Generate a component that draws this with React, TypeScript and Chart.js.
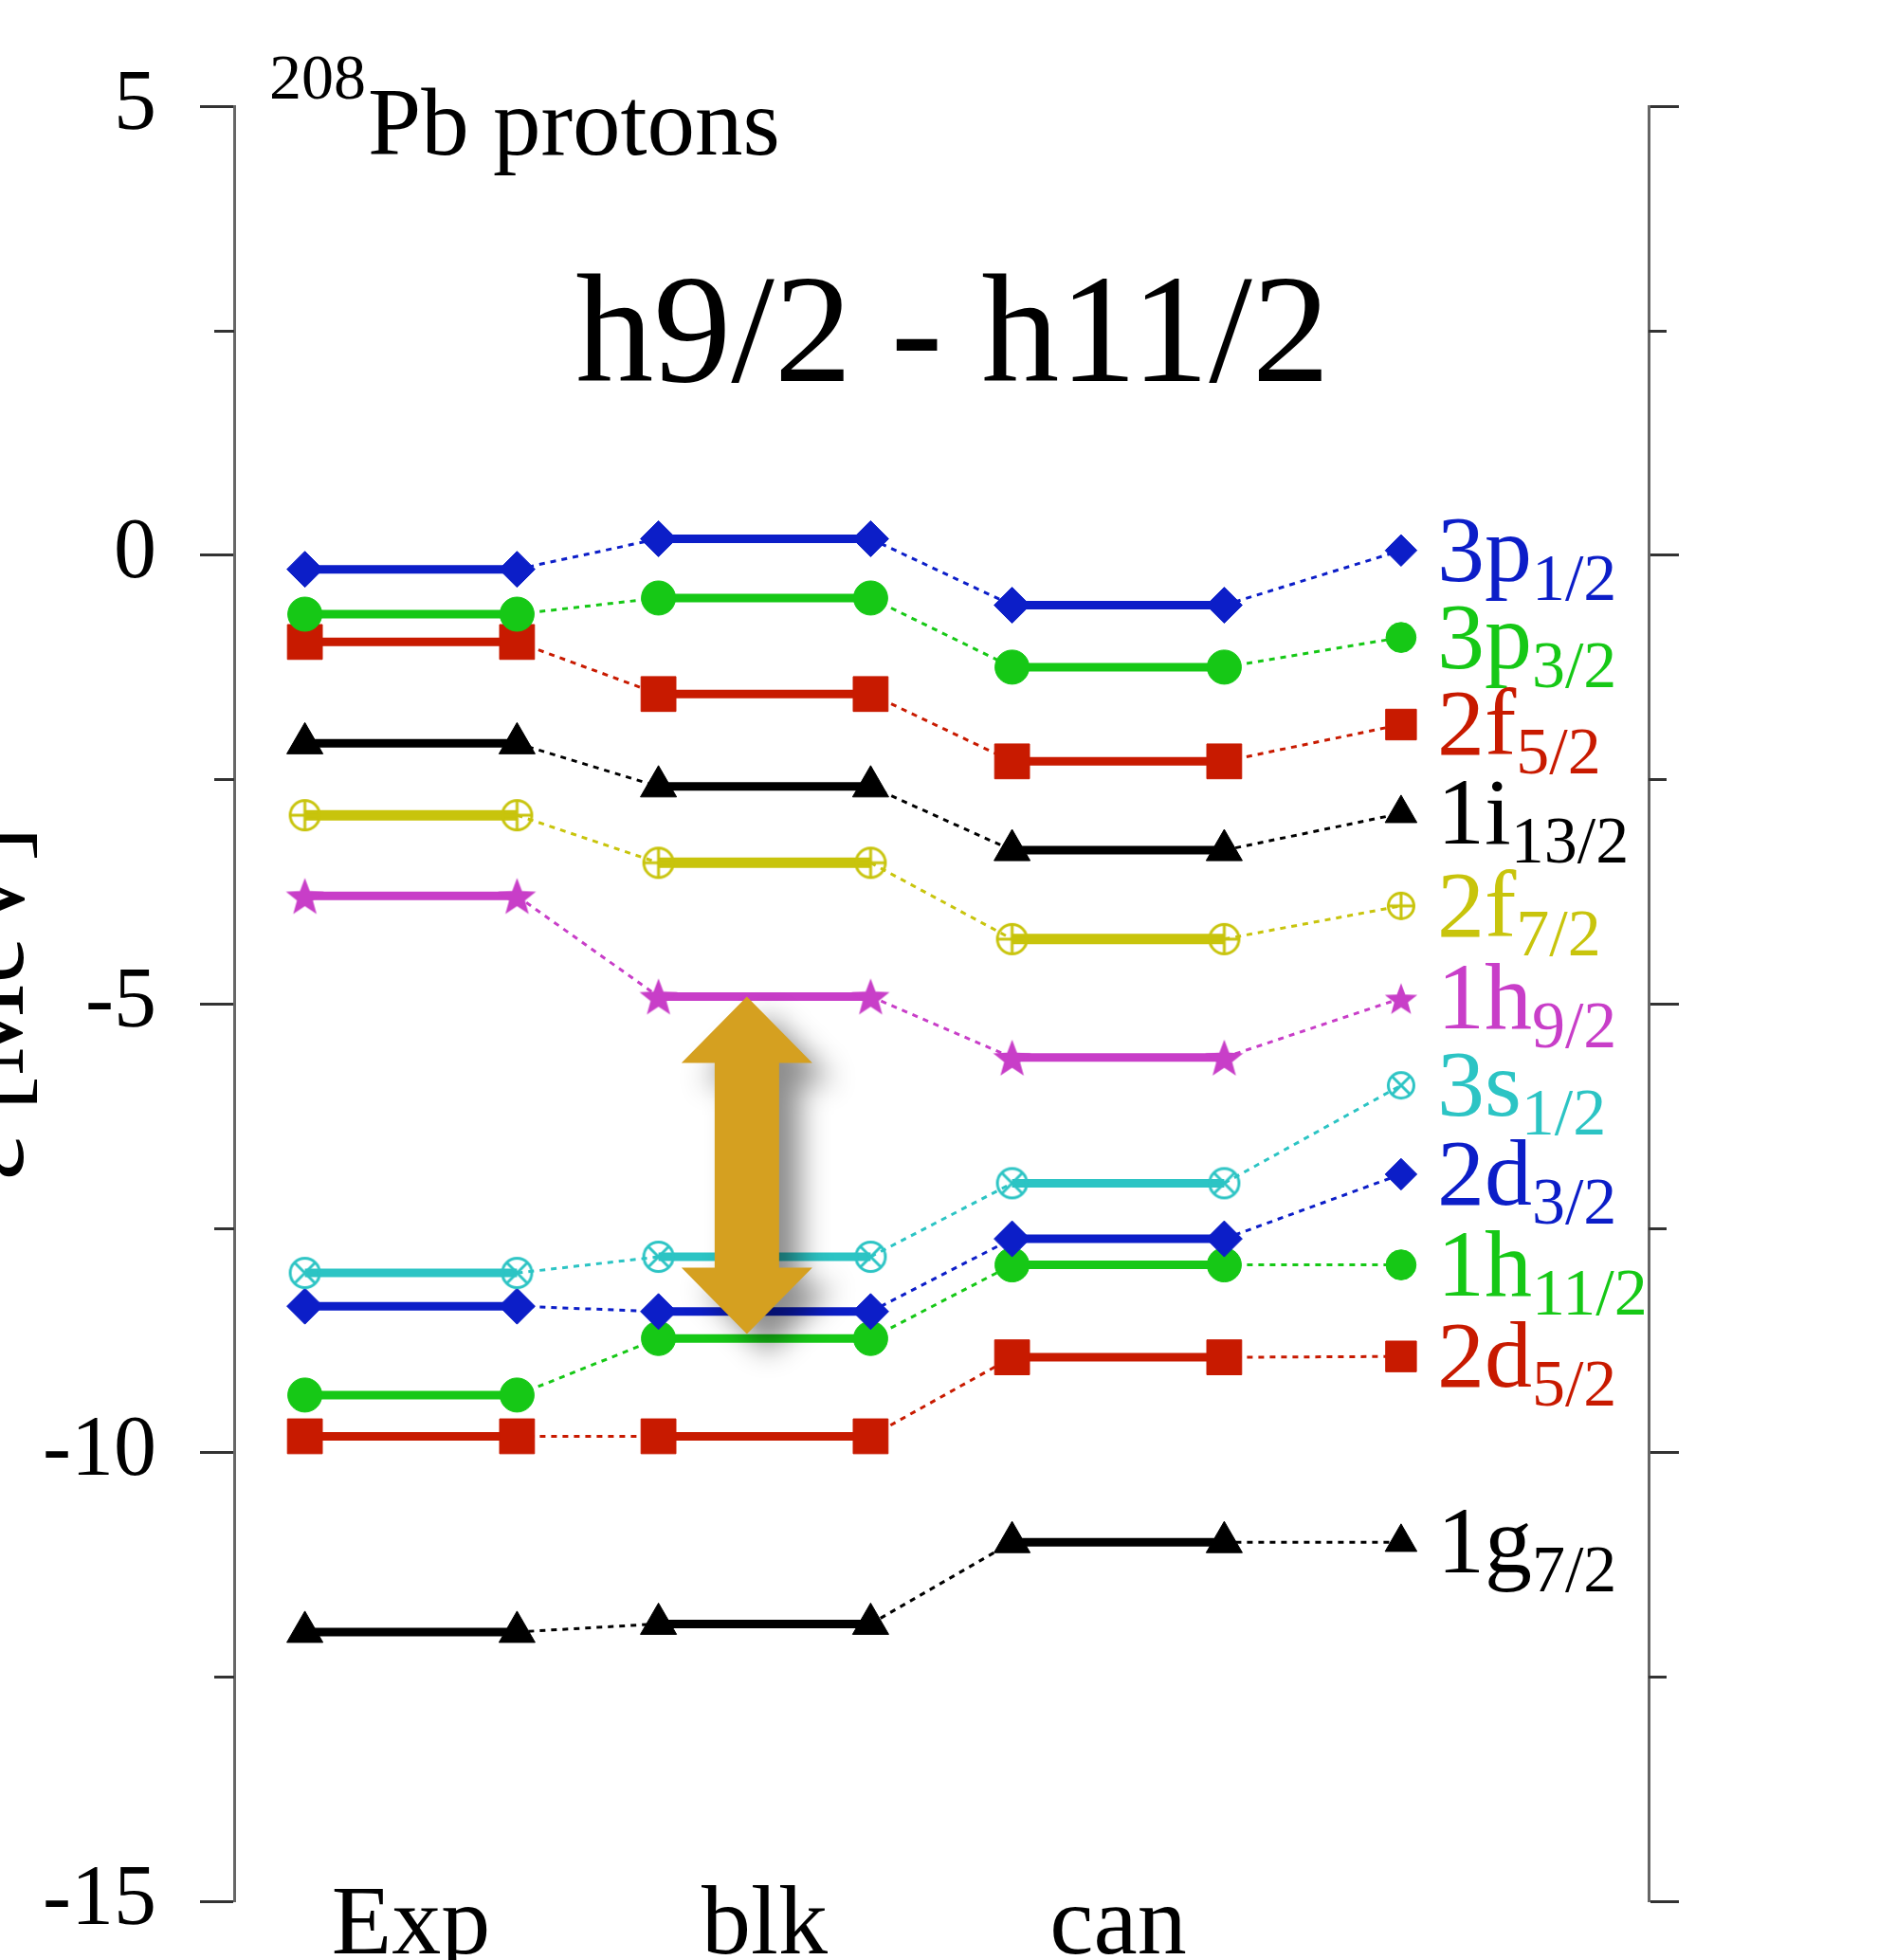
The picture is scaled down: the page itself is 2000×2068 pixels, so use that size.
import { useEffect, useRef } from 'react';
import { Chart, registerables } from 'chart.js';

Chart.register(...registerables);

// Proton single-particle levels of 208Pb (MeV)
const columns = ['Exp', 'blk', 'can'];
const orbitals = ['3p', '3p', '2f', '1i', '2f', '1h', '3s', '2d', '1h', '2d', '1g'];
const subscripts = ['1/2', '3/2', '5/2', '13/2', '7/2', '9/2', '1/2', '3/2', '11/2', '5/2', '7/2'];
const expLevels = [-0.16, -0.66, -0.97, -2.1, -2.9, -3.8, -8.0, -8.37, -9.36, -9.82, -12.0];
const blkLevels = [0.18, -0.48, -1.55, -2.58, -3.43, -4.92, -7.82, -8.43, -8.73, -9.82, -11.91];
const canLevels = [-0.56, -1.25, -2.3, -3.29, -4.28, -5.6, -7.0, -7.62, -7.91, -8.94, -11.0];
const labelLevels = [0.05, -0.92, -1.89, -2.88, -3.91, -4.94, -5.91, -6.9, -7.91, -8.93, -11.0];
const seriesColors = ['#0c1ec8', '#16c816', '#c81a00', '#000000', '#c8c40c', '#c83ec8', '#2cc4c4', '#0c1ec8', '#16c816', '#c81a00', '#000000'];
const markerKinds = ['rectRot', 'circle', 'rect', 'triangle', 'oplus', 'star', 'otimes', 'rectRot', 'circle', 'rect', 'triangle'];

// h9/2 - h11/2 gap in the blk column
const gapTop = -4.92;
const gapBottom = -8.68;

const Y_MIN = -15;
const Y_MAX = 5;
const MAJOR_STEP = 5;
const minorTickValues = [2.5, -2.5, -7.5, -12.5];

// horizontal layout of the level scheme (x in column units)
const COLUMN_START = [0, 1, 2];
const LEVEL_LENGTH = 0.6;
const LABEL_COLUMN = 3.1;
const GAP_COLUMN = 1.25;
const X_MIN = -0.2;
const X_MAX = 3.8;

const SERIF = '"Liberation Serif", "DejaVu Serif", serif';

const markerRadius: Record<string, number> = {
  rectRot: 19,
  circle: 18,
  rect: 26,
  triangle: 22,
  oplus: 17,
  otimes: 17,
  star: 21,
};

function makeMarker(kind: string, color: string, r: number): HTMLCanvasElement {
  const size = Math.ceil(r * 2 + 8);
  const c = document.createElement('canvas');
  c.width = size;
  c.height = size;
  const g = c.getContext('2d')!;
  const m = size / 2;
  g.strokeStyle = color;
  g.fillStyle = color;
  g.lineWidth = 3;
  if (kind === 'oplus' || kind === 'otimes') {
    g.beginPath();
    g.arc(m, m, r - 1.5, 0, Math.PI * 2);
    g.stroke();
    g.beginPath();
    if (kind === 'oplus') {
      g.moveTo(m - r, m);
      g.lineTo(m + r, m);
      g.moveTo(m, m - r);
      g.lineTo(m, m + r);
    } else {
      const d = (r - 1.5) * Math.SQRT1_2;
      g.moveTo(m - d, m - d);
      g.lineTo(m + d, m + d);
      g.moveTo(m + d, m - d);
      g.lineTo(m - d, m + d);
    }
    g.stroke();
  } else if (kind === 'star') {
    const inner = r * 0.42;
    g.beginPath();
    for (let k = 0; k < 10; k++) {
      const rad = k % 2 === 0 ? r : inner;
      const a = -Math.PI / 2 + (k * Math.PI) / 5;
      const px = m + rad * Math.cos(a);
      const py = m + 2 + rad * Math.sin(a);
      if (k === 0) g.moveTo(px, py);
      else g.lineTo(px, py);
    }
    g.closePath();
    g.fill();
  }
  return c;
}

export default function App() {
  const ref = useRef<HTMLCanvasElement>(null);

  useEffect(() => {
    const canvas = ref.current;
    if (!canvas) return;

    const levelRows = [expLevels, blkLevels, canLevels];

    const datasets = orbitals.map((orb, i) => {
      const color = seriesColors[i];
      const kind = markerKinds[i];
      const r = markerRadius[kind];
      const custom = kind === 'oplus' || kind === 'otimes' || kind === 'star';
      const big = custom ? makeMarker(kind, color, r) : null;
      const small = custom ? makeMarker(kind, color, Math.round(r * 0.88)) : null;
      const solidWidth = kind === 'oplus' ? 11 : 9;
      return {
        label: orb + subscripts[i],
        data: [
          ...levelRows.flatMap((row, c) => [
            { x: COLUMN_START[c], y: row[i] },
            { x: COLUMN_START[c] + LEVEL_LENGTH, y: row[i] },
          ]),
          { x: LABEL_COLUMN, y: labelLevels[i] },
        ],
        borderColor: color,
        backgroundColor: color,
        borderWidth: solidWidth,
        pointBackgroundColor: color,
        pointBorderColor: color,
        pointBorderWidth: 1,
        pointStyle: (ctx: any) => (custom ? (ctx.dataIndex === 6 ? small : big) : kind),
        pointRadius: (ctx: any) => (ctx.dataIndex === 6 ? r * 0.88 : r),
        pointHoverRadius: (ctx: any) => (ctx.dataIndex === 6 ? r * 0.88 : r),
        tension: 0,
        fill: false,
        segment: {
          borderWidth: (ctx: any) => (ctx.p0DataIndex % 2 === 0 ? solidWidth : 3),
          borderDash: (ctx: any) => (ctx.p0DataIndex % 2 === 0 ? [] : [6, 6]),
        },
      };
    });

    const annotations = {
      id: 'levelAnnotations',
      afterDatasetsDraw(chart: any) {
        const { ctx, chartArea } = chart;
        const xs = chart.scales.x;
        const ys = chart.scales.y;

        // double arrow marking the gap
        const ax = xs.getPixelForValue(GAP_COLUMN);
        const top = ys.getPixelForValue(gapTop);
        const bot = ys.getPixelForValue(gapBottom);
        const shaft = 34;
        const head = 69;
        const headLen = 70;
        ctx.save();
        ctx.shadowColor = 'rgba(0,0,0,0.45)';
        ctx.shadowBlur = 30;
        ctx.shadowOffsetX = 22;
        ctx.shadowOffsetY = 20;
        ctx.fillStyle = '#d5a020';
        ctx.beginPath();
        ctx.moveTo(ax, top);
        ctx.lineTo(ax + head, top + headLen);
        ctx.lineTo(ax + shaft, top + headLen);
        ctx.lineTo(ax + shaft, bot - headLen);
        ctx.lineTo(ax + head, bot - headLen);
        ctx.lineTo(ax, bot);
        ctx.lineTo(ax - head, bot - headLen);
        ctx.lineTo(ax - shaft, bot - headLen);
        ctx.lineTo(ax - shaft, top + headLen);
        ctx.lineTo(ax - head, top + headLen);
        ctx.closePath();
        ctx.fill();
        ctx.restore();

        // orbital names next to the right-hand markers
        ctx.save();
        ctx.textAlign = 'left';
        ctx.textBaseline = 'alphabetic';
        orbitals.forEach((orb, i) => {
          const x0 = xs.getPixelForValue(LABEL_COLUMN) + 38;
          const y0 = ys.getPixelForValue(labelLevels[i]) + 32;
          ctx.fillStyle = seriesColors[i];
          ctx.font = `100px ${SERIF}`;
          ctx.fillText(orb, x0, y0);
          const w = ctx.measureText(orb).width;
          ctx.font = `70px ${SERIF}`;
          ctx.fillText(subscripts[i], x0 + w, y0 + 20);
        });

        // column names
        ctx.fillStyle = '#000';
        ctx.textAlign = 'center';
        ctx.font = `104px ${SERIF}`;
        columns.forEach((name, c) => {
          const cx = xs.getPixelForValue(COLUMN_START[c] + LEVEL_LENGTH / 2);
          ctx.fillText(name, cx, chartArea.bottom + 55);
        });

        // nucleus label
        ctx.textAlign = 'left';
        ctx.font = `68px ${SERIF}`;
        const sx = chartArea.left + 37;
        ctx.fillText('208', sx, chartArea.top - 8);
        const sw = ctx.measureText('208').width;
        ctx.font = `101px ${SERIF}`;
        ctx.fillText('Pb protons', sx + sw + 2, chartArea.top + 51);

        // headline
        ctx.textAlign = 'center';
        ctx.font = `164px ${SERIF}`;
        ctx.fillText('h9/2 - h11/2', chartArea.left + 758, chartArea.top + 290);

        // energy axis title
        ctx.save();
        ctx.translate(24, (chartArea.top + chartArea.bottom) / 2);
        ctx.rotate(-Math.PI / 2);
        ctx.textAlign = 'center';
        ctx.font = `110px ${SERIF}`;
        ctx.fillText('ε [MeV]', 0, 0);
        ctx.restore();

        // minor ticks on both vertical axes
        ctx.strokeStyle = '#333';
        ctx.lineWidth = 3;
        ctx.beginPath();
        minorTickValues.forEach((v) => {
          const py = Math.round(ys.getPixelForValue(v)) + 0.5;
          ctx.moveTo(chartArea.left - 21, py);
          ctx.lineTo(chartArea.left, py);
          ctx.moveTo(chartArea.right, py);
          ctx.lineTo(chartArea.right + 19, py);
        });
        ctx.stroke();
        ctx.restore();
      },
    };

    const chart = new Chart(canvas, {
      type: 'line',
      data: { datasets: datasets as any },
      options: {
        animation: false,
        responsive: false,
        devicePixelRatio: 1,
        events: [],
        layout: { padding: { top: 112, bottom: 62, left: 0, right: 0 } },
        plugins: {
          legend: { display: false },
          tooltip: { enabled: false },
        },
        scales: {
          x: { type: 'linear', min: X_MIN, max: X_MAX, display: false },
          y: {
            type: 'linear',
            position: 'left',
            min: Y_MIN,
            max: Y_MAX,
            ticks: {
              stepSize: MAJOR_STEP,
              padding: 46,
              color: '#000',
              font: { family: SERIF, size: 90 },
            },
            grid: { drawOnChartArea: false, drawTicks: true, tickLength: 36, tickWidth: 3, tickColor: '#333' },
            border: { display: true, color: '#666', width: 3 },
            afterFit: (s: any) => {
              s.width = 247;
              s.paddingTop = 0;
              s.paddingBottom = 0;
            },
          },
          y2: {
            type: 'linear',
            position: 'right',
            min: Y_MIN,
            max: Y_MAX,
            ticks: { stepSize: MAJOR_STEP, display: false },
            grid: { drawOnChartArea: false, drawTicks: true, tickLength: 32, tickWidth: 3, tickColor: '#333' },
            border: { display: true, color: '#666', width: 3 },
            afterFit: (s: any) => {
              s.width = 261;
              s.paddingTop = 0;
              s.paddingBottom = 0;
            },
          },
        },
      } as any,
      plugins: [annotations],
    });

    return () => chart.destroy();
  }, []);

  return (
    <div style={{ position: 'absolute', left: 0, top: 0, width: 2000, height: 2068, background: '#fff', overflow: 'hidden' }}>
      <canvas ref={ref} width={2000} height={2068} style={{ display: 'block' }} />
    </div>
  );
}
